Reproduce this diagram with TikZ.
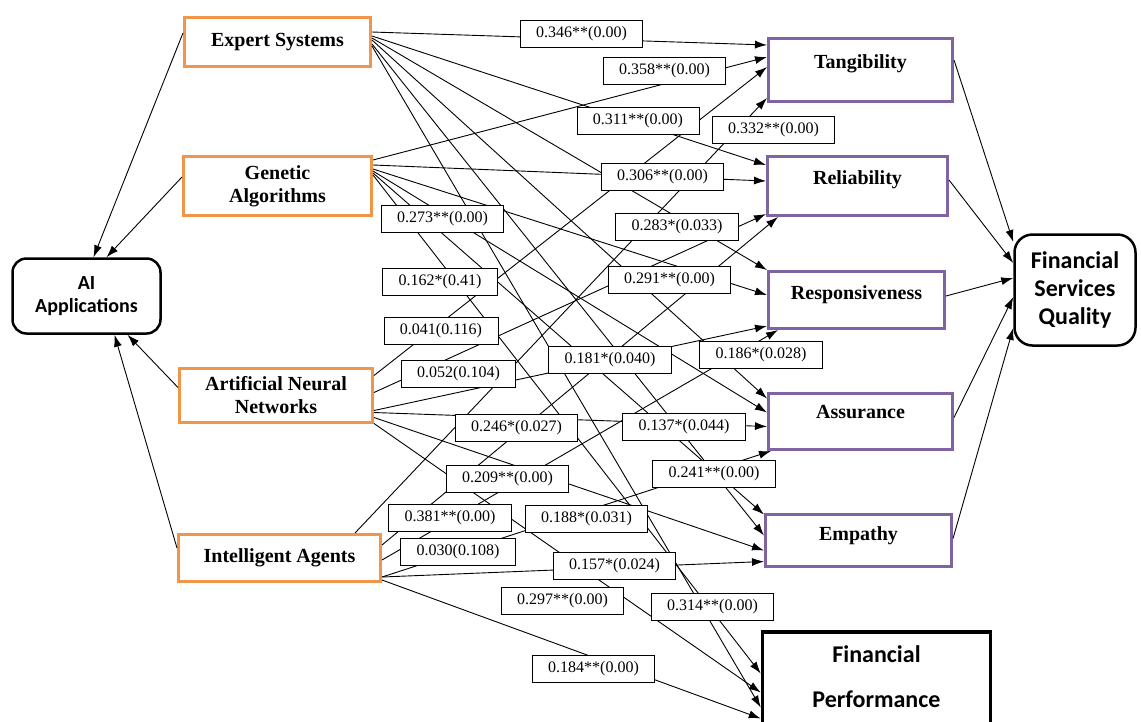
\documentclass[tikz,border=0pt]{standalone}
\usepackage{fontspec}
\setmainfont{Liberation Serif}
\newfontfamily\calib{Carlito}
\usetikzlibrary{arrows.meta}
\definecolor{srcorange}{RGB}{240,150,75}
\definecolor{dimpurple}{RGB}{128,100,162}
\tikzset{
  src/.style={draw=srcorange, line width=3pt, align=center, inner sep=0pt, font=\fontsize{20}{23}\selectfont\bfseries},
  dim/.style={draw=dimpurple, line width=3pt, inner sep=0pt},
  dimtxt/.style={anchor=north, inner sep=0pt, yshift=-15pt, font=\fontsize{20}{23}\selectfont\bfseries},
  outc/.style={draw, line width=2.5pt, rounded corners=14pt, align=center, inner sep=0pt},
  coef/.style={draw, fill=white, line width=0.8pt, inner xsep=16pt, inner ysep=0pt, minimum height=27pt, font=\fontsize{16}{18}\selectfont},
  link/.style={line width=0.9pt, -{Latex[length=12pt,width=8pt]}},
}
\begin{document}
\begin{tikzpicture}[x=1pt,y=-1pt]
\useasboundingbox (0,0) rectangle (1141,721);
\node[src, minimum width=186pt, minimum height=49pt] (es) at (277.5,42) {Expert Systems};
\node[src, minimum width=188pt, minimum height=59pt] (ga) at (277.5,186) {Genetic\\Algorithms};
\node[src, minimum width=193pt, minimum height=54pt] (ann) at (276,395.5) {Artificial Neural\\Networks};
\node[src, minimum width=202pt, minimum height=47pt] (ia) at (279.5,558) {Intelligent Agents};
\node[outc, minimum width=148pt, minimum height=75pt, font=\calib\fontsize{20}{23}\selectfont\bfseries] (ai) at (86.5,296) {AI\\Applications};
\node[dim, minimum width=184pt, minimum height=63pt, label={[dimtxt, yshift=-2pt]north:Tangibility}] (tang) at (860.5,70) {};
\node[dim, minimum width=180pt, minimum height=59pt, label={[dimtxt]north:Reliability}] (rel) at (857.5,186) {};
\node[dim, minimum width=176pt, minimum height=57pt, label={[dimtxt]north:Responsiveness}] (resp) at (856.5,300) {};
\node[dim, minimum width=184pt, minimum height=56pt, label={[dimtxt, yshift=2pt]north:Assurance}] (assur) at (860.5,421.5) {};
\node[dim, minimum width=186pt, minimum height=52pt, label={[dimtxt, yshift=2pt]north:Empathy}] (emp) at (858.5,540.5) {};
\node[draw, line width=3.5pt, inner sep=0pt, minimum width=228pt, minimum height=113pt, label={[anchor=north, inner sep=0pt, yshift=-15pt, align=center, font=\calib\fontsize{24}{45}\selectfont\bfseries]north:Financial\\Performance}] (fp) at (876.5,688.5) {};
\node[outc, rounded corners=18pt, minimum width=121pt, minimum height=111pt, font=\calib\fontsize{24}{28}\selectfont\bfseries] (fsq) at (1075,290) {Financial\\Services\\Quality};
\draw[link] ([yshift=9pt]es.west) -- ([xshift=7pt]ai.north);
\draw[link] ([yshift=9pt]ga.west) -- ([xshift=20pt]ai.north);
\draw[link] ([yshift=8pt]ann.west) -- ([xshift=41pt]ai.south);
\draw[link] ([yshift=10pt]ia.west) -- ([xshift=28pt]ai.south);
\draw[link] ([yshift=10pt]es.east) -- ([yshift=25pt]tang.west);
\draw[link] ([yshift=6pt]es.east) -- ([yshift=21pt]rel.west);
\draw[link] ([yshift=4pt]es.east) -- (resp.north west);
\draw[link] ([yshift=2pt]es.east) -- ([yshift=23pt]assur.west);
\draw[link] ([yshift=-2pt]es.east) -- ([yshift=5pt]emp.west);
\draw[link] ([yshift=-4pt]es.east) -- ([yshift=-19pt]fp.west);
\draw[link] ([yshift=26pt]ga.east) -- ([yshift=13pt]tang.west);
\draw[link] ([yshift=21pt]ga.east) -- ([yshift=5pt]rel.west);
\draw[link] ([yshift=17pt]ga.east) -- ([yshift=5pt]resp.west);
\draw[link] ([yshift=15pt]ga.east) -- ([yshift=9pt]assur.west);
\draw[link] ([yshift=13pt]ga.east) -- ([yshift=26pt]emp.west);
\draw[link] ([yshift=11pt]ga.east) -- ([yshift=15pt]fp.west);
\draw[link] ([yshift=20pt]ann.east) -- ([yshift=3pt]tang.west);
\draw[link] ([yshift=3pt]ann.east) -- ([yshift=-28pt]rel.west);
\draw[link] ([yshift=-15pt]ann.east) -- ([yshift=-26pt]resp.west);
\draw[link] ([yshift=-17pt]ann.east) -- ([yshift=-5pt]assur.west);
\draw[link] ([yshift=-22pt]ann.east) -- ([yshift=-10pt]emp.west);
\draw[link] ([yshift=-28pt]ann.east) -- ([yshift=-4pt]fp.west);
\draw[link] ([xshift=-27pt]ia.north east) -- ([yshift=-28pt]tang.west);
\draw[link] ([yshift=13pt]ia.east) -- ([xshift=12pt]rel.south west);
\draw[link] ([yshift=-2pt]ia.east) -- ([xshift=11pt]resp.south west);
\draw[link] ([yshift=-19pt]ia.east) -- ([xshift=4pt]assur.south west);
\draw[link] ([yshift=-19pt]ia.east) -- ([yshift=-21pt]emp.west);
\draw[link] ([yshift=-22pt]ia.east) -- ([yshift=-30pt]fp.west);
\draw[link] ([yshift=10pt]tang.east) -- ([yshift=48pt]fsq.west);
\draw[link] ([yshift=6pt]rel.east) -- ([yshift=27pt]fsq.west);
\draw[link] ([yshift=4pt]resp.east) -- ([yshift=12pt]fsq.west);
\draw[link] ([yshift=4pt]assur.east) -- ([yshift=-7pt]fsq.west);
\draw[link] ([yshift=2pt]emp.east) -- ([yshift=-38pt]fsq.west);
\node[coef] (c346) at (581.5,34) {0.346**(0.00)};
\node[coef] (c358) at (664.5,70.5) {0.358**(0.00)};
\node[coef] (c311) at (638,121) {0.311**(0.00)};
\node[coef] (c332) at (773.5,129.5) {0.332**(0.00)};
\node[coef] (c306) at (662.5,177) {0.306**(0.00)};
\node[coef] (c273) at (442.5,218.5) {0.273**(0.00)};
\node[coef] (c283) at (677,227) {0.283*(0.033)};
\node[coef] (c162) at (440,282) {0.162*(0.41)};
\node[coef] (c291) at (669.5,280) {0.291**(0.00)};
\node[coef] (c041) at (441,331) {0.041(0.116)};
\node[coef] (c052) at (458.5,373.5) {0.052(0.104)};
\node[coef] (c181) at (610,360) {0.181*(0.040)};
\node[coef] (c186) at (761,355) {0.186*(0.028)};
\node[coef] (c246) at (516.5,427.5) {0.246*(0.027)};
\node[coef] (c137) at (684,427) {0.137*(0.044)};
\node[coef] (c209) at (507.5,478.5) {0.209**(0.00)};
\node[coef] (c241) at (714,474) {0.241**(0.00)};
\node[coef] (c381) at (450,517.5) {0.381**(0.00)};
\node[coef] (c188) at (586.5,519) {0.188*(0.031)};
\node[coef] (c030) at (458,551.5) {0.030(0.108)};
\node[coef] (c157) at (614.5,566) {0.157*(0.024)};
\node[coef] (c297) at (562.5,600.5) {0.297**(0.00)};
\node[coef] (c314) at (712.5,607) {0.314**(0.00)};
\node[coef] (c184) at (593.5,669) {0.184**(0.00)};
\end{tikzpicture}
\end{document}
